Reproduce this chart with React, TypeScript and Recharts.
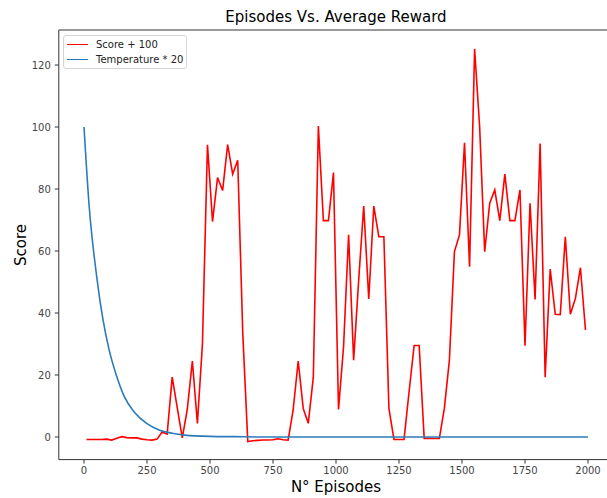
import React from "react";
import { LineChart, Line, XAxis, YAxis, ReferenceLine } from "recharts";

// red series: score + 100, one point every 20 episodes
const scoreEpisodes = [
	10, 30, 50, 70, 90, 110, 130, 150, 170, 190, 210, 230, 250, 270, 290, 310, 330, 350, 370, 390,
	410, 430, 450, 470, 490, 510, 530, 550, 570, 590, 610, 630, 650, 670, 690, 710, 730, 750, 770, 790,
	810, 830, 850, 870, 890, 910, 930, 950, 970, 990, 1010, 1030, 1050, 1070, 1090, 1110, 1130, 1150, 1170, 1190,
	1210, 1230, 1250, 1270, 1290, 1310, 1330, 1350, 1370, 1390, 1410, 1430, 1450, 1470, 1490, 1510, 1530, 1550, 1570, 1590,
	1610, 1630, 1650, 1670, 1690, 1710, 1730, 1750, 1770, 1790, 1810, 1830, 1850, 1870, 1890, 1910, 1930, 1950, 1970, 1990,
];
const scoreValues = [
	-0.8, -0.8, -0.8, -0.8, -0.7, -1.0, -0.4, 0.1, -0.2, -0.3, -0.3, -0.7, -0.9, -1.0, -0.7, 1.6, 0.9, 19.3, 9.5, -0.3,
	9.0, 24.5, 4.4, 30.0, 94.3, 69.5, 83.7, 79.5, 94.3, 84.8, 89.3, 33.5, -1.5, -1.2, -1.1, -1.0, -1.0, -0.9, -0.6, -0.9,
	-1.0, 8.7, 24.5, 9.2, 4.4, 19.3, 100.3, 69.8, 69.8, 85.3, 8.9, 29.1, 65.2, 24.8, 50.6, 74.5, 44.5, 74.5, 64.6, 64.6,
	9.2, -0.8, -0.8, -0.8, 14.6, 29.5, 29.5, -0.5, -0.5, -0.5, -0.5, 9.2, 24.8, 59.8, 65.2, 94.9, 54.9, 125.2, 100.1, 59.8,
	75.4, 79.7, 69.8, 84.8, 69.8, 69.8, 79.7, 29.4, 75.4, 44.4, 94.7, 19.3, 54.2, 39.6, 39.5, 64.6, 39.6, 44.7, 54.6, 34.5,
];

// blue series: temperature * 20
const tempEpisodes = [0, 20, 50, 75, 100, 130, 160, 200, 250, 300, 350, 400, 500, 600, 700, 1000, 1500, 2000];
const tempValues = [100, 75, 52, 38, 28, 19.5, 13, 8, 4.3, 2.2, 1.2, 0.6, 0.2, 0.1, 0, 0, 0, 0];

const xTicks = [0, 250, 500, 750, 1000, 1250, 1500, 1750, 2000];
const yTicks = [0, 20, 40, 60, 80, 100, 120];

const scoreData = scoreEpisodes.map((ep, i) => ({ ep, v: scoreValues[i] }));
const tempData = tempEpisodes.map((ep, i) => ({ ep, v: tempValues[i] }));

const FONT = "DejaVu Sans, sans-serif";
const AXIS = "#333";
const tickStyle = { fontSize: 10, fill: "#444", fontFamily: FONT };

function LegendBox() {
	const row = (color: string, text: string) => (
		<div style={{ display: "flex", alignItems: "center", height: 15 }}>
			<div style={{ width: 21, height: 0, borderTop: `1.5px solid ${color}`, marginRight: 8 }} />
			<span>{text}</span>
		</div>
	);
	return (
		<div
			style={{
				position: "absolute",
				left: 63,
				top: 35,
				border: "1px solid #d6d6d6",
				borderRadius: 3,
				background: "rgba(255,255,255,0.8)",
				padding: "1px 3px 1px 3px",
				fontFamily: FONT,
				fontSize: 10,
				color: "#222",
				lineHeight: "15px",
				whiteSpace: "nowrap",
			}}
		>
			{row("#ff0000", "Score + 100")}
			{row("#1f77b4", "Temperature * 20")}
		</div>
	);
}

const labelStyle: React.CSSProperties = {
	position: "absolute",
	fontFamily: FONT,
	fontSize: 15,
	color: "#000",
	whiteSpace: "nowrap",
};

export default function App() {
	return (
		<div
			style={{
				position: "fixed",
				left: 0,
				top: 0,
				width: 607,
				height: 498,
				overflow: "hidden",
				background: "#fff",
			}}
		>
			<LineChart
				width={640}
				height={498}
				margin={{ top: 30, right: 26.8, bottom: 0, left: 0 }}
				style={{ position: "absolute", left: 0, top: 0 }}
			>
				<XAxis
					dataKey="ep"
					type="number"
					domain={[-100, 2100]}
					ticks={xTicks}
					allowDataOverflow
					height={38.4}
					tickSize={4}
					tickMargin={3}
					stroke={AXIS}
					tick={tickStyle}
				/>
				<YAxis
					type="number"
					domain={[-7.3, 131.3]}
					ticks={yTicks}
					allowDataOverflow
					width={58.8}
					tickSize={4}
					tickMargin={4}
					stroke={AXIS}
					tick={tickStyle}
				/>
				<ReferenceLine y={131.3} stroke={AXIS} ifOverflow="extendDomain" />
				<Line
					data={scoreData}
					dataKey="v"
					name="Score + 100"
					type="linear"
					stroke="#ff0000"
					strokeWidth={1.6}
					dot={false}
					activeDot={false}
					isAnimationActive={false}
				/>
				<Line
					data={tempData}
					dataKey="v"
					name="Temperature * 20"
					type="monotone"
					stroke="#2b7bba"
					strokeWidth={1.6}
					dot={false}
					activeDot={false}
					isAnimationActive={false}
				/>
			</LineChart>
			<div style={{ ...labelStyle, left: 58.8, width: 554.4, top: 8, textAlign: "center" }}>
				Episodes Vs. Average Reward
			</div>
			<div style={{ ...labelStyle, left: 58.8, width: 554.4, top: 478, textAlign: "center" }}>
				N° Episodes
			</div>
			<div
				style={{
					...labelStyle,
					left: 21,
					top: 245,
					transform: "translate(-50%, -50%) rotate(-90deg)",
				}}
			>
				Score
			</div>
			<LegendBox />
		</div>
	);
}
